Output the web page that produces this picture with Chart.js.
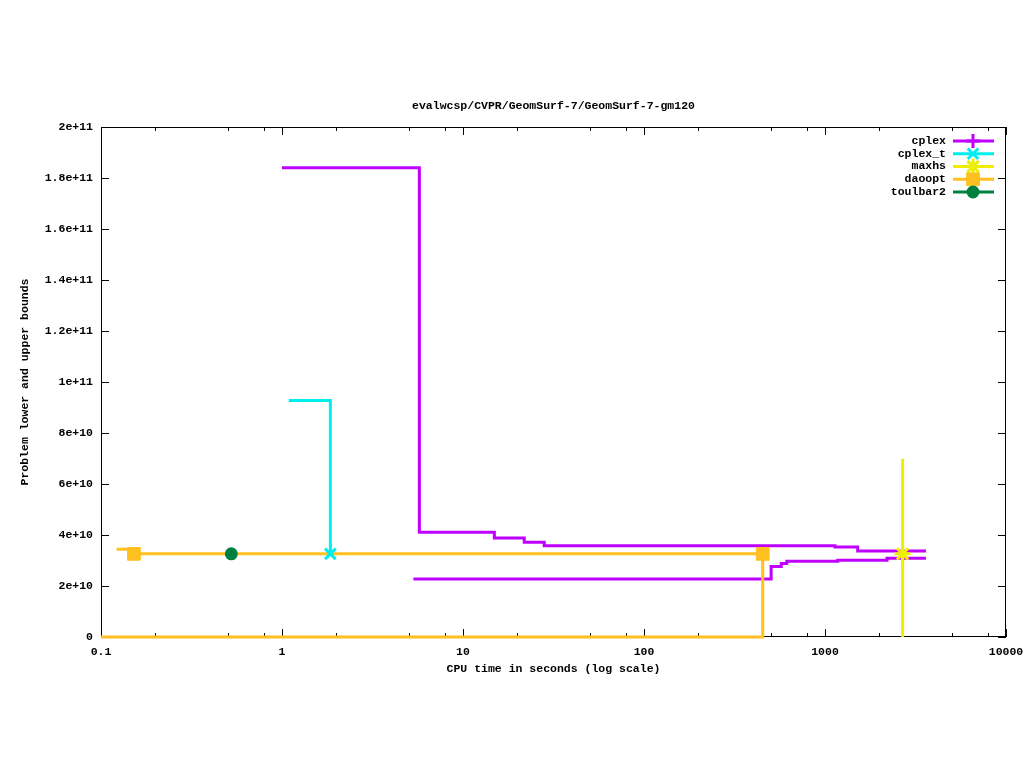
<!doctype html>
<html lang="en">
<head>
<meta charset="utf-8">
<title>GeomSurf-7-gm120</title>
<script src="https://cdn.jsdelivr.net/npm/chart.js@4.4.0/dist/chart.umd.min.js"></script>
<style>
  html, body { margin: 0; padding: 0; background: #fff; }
</style>
</head>
<body>
<canvas id="chart" width="1024" height="768"></canvas>
<script>
// values
const cplexUbTime = [1, 5.74, 14.9, 21.8, 28.1, 1135, 1516, 3611];
const cplexUbVal  = [1.84e11, 4.11e10, 3.88e10, 3.72e10, 3.58e10, 3.53e10, 3.37e10, 3.37e10];
const cplexLbTime = [5.32, 504, 573, 615, 1175, 2201, 3611];
const cplexLbVal  = [2.27e10, 2.76e10, 2.88e10, 2.97e10, 3.01e10, 3.09e10, 3.09e10];
const cplexTTime  = [1.09, 1.85];
const cplexTVal   = [9.27e10, 3.26e10];
const maxhsTime   = [2684, 2684, 2684];
const maxhsVal    = [0, 3.26e10, 6.99e10];
const daooptUbTime = [0.122, 0.152, 453];
const daooptUbVal  = [3.44e10, 3.26e10, 3.26e10];
const daooptLbTime = [0.1, 453];
const daooptLbVal  = [0, 3.26e10];
const toulbarTime = [0.525];
const toulbarVal  = [3.26e10];

const xTickValues = [0.1, 1, 10, 100, 1000, 10000];
const xTickLabels = ['0.1', '1', '10', '100', '1000', '10000'];
const xMinorTicks = [0.2, 0.5, 0.8, 2, 5, 8, 20, 50, 80, 200, 500, 800, 2000, 5000, 8000];
const yTickValues = [0, 2e10, 4e10, 6e10, 8e10, 1e11, 1.2e11, 1.4e11, 1.6e11, 1.8e11, 2e11];
const yTickLabels = ['0', '2e+10', '4e+10', '6e+10', '8e+10', '1e+11', '1.2e+11', '1.4e+11', '1.6e+11', '1.8e+11', '2e+11'];

const legendNames = ['cplex', 'cplex_t', 'maxhs', 'daoopt', 'toulbar2'];

const chartTitle = 'evalwcsp/CVPR/GeomSurf-7/GeomSurf-7-gm120';
const xTitle = 'CPU time in seconds (log scale)';
const yTitle = 'Problem lower and upper bounds';

const FONT = 'bold 11.5px "Liberation Mono", "DejaVu Sans Mono", monospace';

const C_CPLEX = '#c000ff', C_CPLEXT = '#00eeee', C_MAXHS = '#eeee00', C_DAOOPT = '#ffc020', C_TB2 = '#008040';

const legendStyles = [
  {color: C_CPLEX, pointStyle: 'cross', radius: 7, fill: C_CPLEX, bw: 3},
  {color: C_CPLEXT, pointStyle: 'crossRot', radius: 7.5, fill: C_CPLEXT, bw: 3},
  {color: C_MAXHS, pointStyle: 'star', radius: 8, fill: C_MAXHS, bw: 3},
  {color: C_DAOOPT, pointStyle: 'rect', radius: 9, fill: C_DAOOPT, bw: 1},
  {color: C_TB2, pointStyle: 'circle', radius: 5, fill: C_TB2, bw: 3}
];

const pts = (t, v) => t.map((x, i) => ({x: x, y: v[i]}));

const frame = {
  id: 'frame',
  beforeDatasetsDraw(chart) {
    const {ctx, chartArea: a, scales: {x, y}} = chart;
    ctx.save();
    ctx.strokeStyle = '#000';
    ctx.lineWidth = 1;
    ctx.strokeRect(a.left + 0.5, a.top + 0.5, a.right - a.left - 1, a.bottom - a.top - 1);
    ctx.beginPath();
    x.ticks.forEach(t => {
      const px = Math.round(x.getPixelForValue(t.value)) + 0.5;
      const len = t.major ? 8 : 4;
      ctx.moveTo(px, a.bottom); ctx.lineTo(px, a.bottom - len);
      ctx.moveTo(px, a.top); ctx.lineTo(px, a.top + len);
    });
    y.ticks.forEach(t => {
      const py = Math.round(y.getPixelForValue(t.value)) + 0.5;
      ctx.moveTo(a.left, py); ctx.lineTo(a.left + 8, py);
      ctx.moveTo(a.right, py); ctx.lineTo(a.right - 8, py);
    });
    ctx.stroke();

    ctx.fillStyle = '#000';
    ctx.font = FONT;
    ctx.textAlign = 'center';
    ctx.textBaseline = 'middle';
    ctx.fillText(chartTitle, (a.left + a.right) / 2, a.top - 21);
    ctx.fillText(xTitle, (a.left + a.right) / 2, a.bottom + 32);
    ctx.translate(25, (a.top + a.bottom) / 2);
    ctx.rotate(-Math.PI / 2);
    ctx.fillText(yTitle, 0, 0);
    ctx.restore();
  },
  afterDatasetsDraw(chart) {
    const {ctx, chartArea: a} = chart;
    ctx.save();
    ctx.font = FONT;
    ctx.textAlign = 'right';
    ctx.textBaseline = 'middle';
    legendNames.forEach((name, i) => {
      const s = legendStyles[i];
      const yy = a.top + 14 + i * 12.75;
      ctx.fillStyle = '#000';
      ctx.fillText(name, a.right - 60, yy);
      ctx.strokeStyle = s.color;
      ctx.lineWidth = 3;
      ctx.beginPath();
      ctx.moveTo(a.right - 53, yy);
      ctx.lineTo(a.right - 12, yy);
      ctx.stroke();
      ctx.fillStyle = s.fill;
      ctx.lineWidth = s.bw;
      Chart.helpers.drawPoint(ctx, {pointStyle: s.pointStyle, radius: s.radius, borderWidth: s.bw, rotation: 0}, a.right - 33, yy);
    });
    ctx.restore();
  }
};

const lineDefaults = {borderWidth: 3, stepped: true, fill: false, clip: 6, pointBorderWidth: 3};

const ctx = document.getElementById('chart').getContext('2d');
const myChart = new Chart(ctx, {
  type: 'line',
  data: {
    datasets: [
      Object.assign({}, lineDefaults, {label: 'cplex', order: 4, data: pts(cplexUbTime, cplexUbVal),
        borderColor: C_CPLEX, pointRadius: 0}),
      Object.assign({}, lineDefaults, {label: 'cplex lb', order: 4, data: pts(cplexLbTime, cplexLbVal),
        borderColor: C_CPLEX, pointRadius: 0}),
      Object.assign({}, lineDefaults, {label: 'daoopt', order: 3, data: pts(daooptUbTime, daooptUbVal),
        borderColor: C_DAOOPT, backgroundColor: C_DAOOPT, pointStyle: 'rect', pointBorderWidth: 1,
        pointRadius: [0, 9, 9]}),
      Object.assign({}, lineDefaults, {label: 'daoopt lb', order: 3, data: pts(daooptLbTime, daooptLbVal),
        borderColor: C_DAOOPT, pointRadius: 0}),
      Object.assign({}, lineDefaults, {label: 'maxhs', order: 2, data: pts(maxhsTime, maxhsVal),
        borderColor: C_MAXHS, backgroundColor: C_MAXHS, pointStyle: 'star', pointRadius: [0, 8, 0]}),
      Object.assign({}, lineDefaults, {label: 'cplex_t', order: 1, data: pts(cplexTTime, cplexTVal),
        borderColor: C_CPLEXT, backgroundColor: C_CPLEXT, pointStyle: 'crossRot', pointRadius: [0, 7.5]}),
      Object.assign({}, lineDefaults, {label: 'toulbar2', order: 0, data: pts(toulbarTime, toulbarVal),
        borderColor: C_TB2, backgroundColor: C_TB2, pointStyle: 'circle', pointRadius: 5, showLine: false})
    ]
  },
  options: {
    responsive: false,
    animation: false,
    layout: {padding: {top: 127, right: 18, bottom: 0, left: 0}},
    plugins: {legend: {display: false}, tooltip: {enabled: false}, title: {display: false}},
    scales: {
      x: {
        type: 'logarithmic', min: 0.1, max: 10000,
        grid: {display: false, drawTicks: false},
        border: {display: false},
        ticks: {
          color: '#000', font: {family: '"Liberation Mono", "DejaVu Sans Mono", monospace', size: 11.5, weight: 'bold'},
          padding: 8, maxRotation: 0, autoSkip: false,
          callback: (v) => { const i = xTickValues.indexOf(v); return i < 0 ? '' : xTickLabels[i]; }
        },
        afterBuildTicks: (s) => {
          s.ticks = xTickValues.map(v => ({value: v, major: true}))
            .concat(xMinorTicks.map(v => ({value: v, major: false})));
        },
        afterFit: (s) => { s.height = 131; s.paddingLeft = 0; s.paddingRight = 0; }
      },
      y: {
        type: 'linear', min: 0, max: 2e11,
        grid: {display: false, drawTicks: false},
        border: {display: false},
        ticks: {
          color: '#000', font: {family: '"Liberation Mono", "DejaVu Sans Mono", monospace', size: 11.5, weight: 'bold'},
          padding: 8, autoSkip: false,
          callback: (v) => { const i = yTickValues.indexOf(v); return i < 0 ? '' : yTickLabels[i]; }
        },
        afterBuildTicks: (s) => { s.ticks = yTickValues.map(v => ({value: v})); },
        afterFit: (s) => { s.width = 101; s.paddingTop = 0; s.paddingBottom = 0; }
      }
    }
  },
  plugins: [frame]
});
</script>
</body>
</html>
